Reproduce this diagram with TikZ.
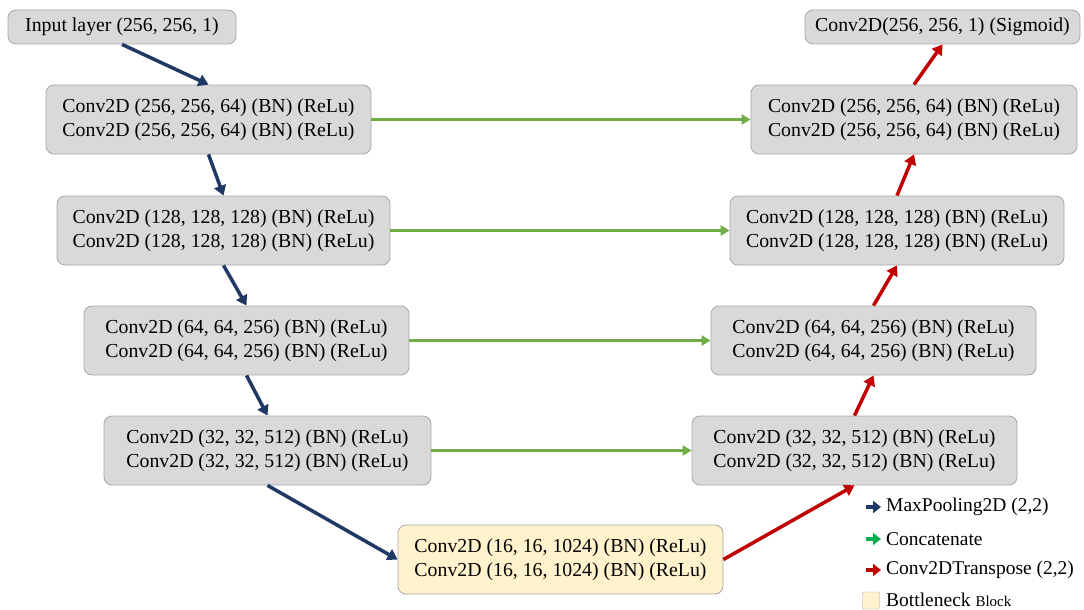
\documentclass[tikz,border=0pt]{standalone}
\usepackage{fontspec}
\setmainfont{Liberation Serif}
\usetikzlibrary{arrows.meta}
\definecolor{boxfill}{HTML}{D9D9D9}
\definecolor{boxdraw}{HTML}{A6A6A6}
\definecolor{bnfill}{HTML}{FFF2CC}
\definecolor{navy}{HTML}{1F3864}
\definecolor{cgreen}{HTML}{70AD47}
\definecolor{lgreen}{HTML}{00B050}
\definecolor{cred}{HTML}{C00000}
\tikzset{
  layer/.style={draw=boxdraw, line width=0.8pt, fill=boxfill, rounded corners=8pt, inner sep=0pt, align=center,
    font=\fontsize{19.8pt}{24pt}\selectfont},
  bneck/.style={layer, fill=bnfill},
  down/.style={draw=navy, line width=3.5pt, -{Triangle[length=10pt,width=12pt]}},
  skip/.style={draw=cgreen, line width=3pt, -{Triangle[length=9pt,width=10pt]}},
  up/.style={draw=cred, line width=3.5pt, -{Triangle[length=10pt,width=12pt]}},
  legtext/.style={anchor=west, inner sep=0pt, font=\fontsize{19.5pt}{23pt}\selectfont},
  legarrow/.style={line width=3.5pt, -{Triangle[length=8pt,width=12pt]}},
}
\begin{document}
\begin{tikzpicture}[x=1pt,y=-1pt]
\useasboundingbox (0,0) rectangle (1084,610);
\node[layer, minimum width=228pt, minimum height=34pt] (in) at (122,27) {Input layer (256, 256, 1)};
\node[layer, minimum width=325pt, minimum height=69pt] (l1) at (208.5,119.5) {Conv2D (256, 256, 64) (BN) (ReLu)\\Conv2D (256, 256, 64) (BN) (ReLu)};
\node[layer, minimum width=333pt, minimum height=69pt] (l2) at (223.5,230.5) {Conv2D (128, 128, 128) (BN) (ReLu)\\Conv2D (128, 128, 128) (BN) (ReLu)};
\node[layer, minimum width=325pt, minimum height=69pt] (l3) at (246.5,340.5) {Conv2D (64, 64, 256) (BN) (ReLu)\\Conv2D (64, 64, 256) (BN) (ReLu)};
\node[layer, minimum width=327pt, minimum height=69pt] (l4) at (267.5,450.5) {Conv2D (32, 32, 512) (BN) (ReLu)\\Conv2D (32, 32, 512) (BN) (ReLu)};
\node[bneck, minimum width=325pt, minimum height=69pt] (bn) at (560.5,559.5) {Conv2D (16, 16, 1024) (BN) (ReLu)\\Conv2D (16, 16, 1024) (BN) (ReLu)};
\node[layer, minimum width=325pt, minimum height=69pt] (r4) at (854.5,450.5) {Conv2D (32, 32, 512) (BN) (ReLu)\\Conv2D (32, 32, 512) (BN) (ReLu)};
\node[layer, minimum width=325pt, minimum height=69pt] (r3) at (873.5,340.5) {Conv2D (64, 64, 256) (BN) (ReLu)\\Conv2D (64, 64, 256) (BN) (ReLu)};
\node[layer, minimum width=334pt, minimum height=69pt] (r2) at (897,230.5) {Conv2D (128, 128, 128) (BN) (ReLu)\\Conv2D (128, 128, 128) (BN) (ReLu)};
\node[layer, minimum width=326pt, minimum height=69pt] (r1) at (914,119.5) {Conv2D (256, 256, 64) (BN) (ReLu)\\Conv2D (256, 256, 64) (BN) (ReLu)};
\node[layer, minimum width=275pt, minimum height=34pt] (out) at (942.5,27) {Conv2D(256, 256, 1) (Sigmoid)};
% encoder
\draw[down] (in.south) -- (l1.north);
\draw[down] (l1.south) -- (l2.north);
\draw[down] (l2.south) -- (l3.north);
\draw[down] (l3.south) -- (l4.north);
\draw[down] (l4.south) -- (bn.west);
% decoder
\draw[up] (bn.east) -- (r4.south);
\draw[up] (r4.north) -- (r3.south);
\draw[up] (r3.north) -- (r2.south);
\draw[up] (r2.north) -- (r1.south);
\draw[up] (r1.north) -- (out.south);
% skips
\draw[skip] (l1.east) -- (r1.west);
\draw[skip] (l2.east) -- (r2.west);
\draw[skip] (l3.east) -- (r3.west);
\draw[skip] (l4.east) -- (r4.west);
% legend
\coordinate (la1) at (866,507); \coordinate (lb1) at (881,507);
\coordinate (la2) at (866,539); \coordinate (lb2) at (881,539);
\coordinate (la3) at (866,570); \coordinate (lb3) at (881,570);
\draw[navy, legarrow] (la1) -- (lb1);
\draw[lgreen, legarrow] (la2) -- (lb2);
\draw[cred, legarrow] (la3) -- (lb3);
\node[legtext] (t1) at (886,507) {MaxPooling2D (2,2)};
\node[legtext] (t2) at (886,539) {Concatenate};
\node[legtext] (t3) at (886,570) {Conv2DTranspose (2,2)};
\node[draw=boxdraw, fill=bnfill, rounded corners=2pt, minimum width=17pt, minimum height=17pt, inner sep=0pt] (lb) at (871,600.5) {};
\node[legtext] (t4) at (886,600) {Bottleneck {\fontsize{15pt}{18pt}\selectfont Block}};
\end{tikzpicture}
\end{document}
